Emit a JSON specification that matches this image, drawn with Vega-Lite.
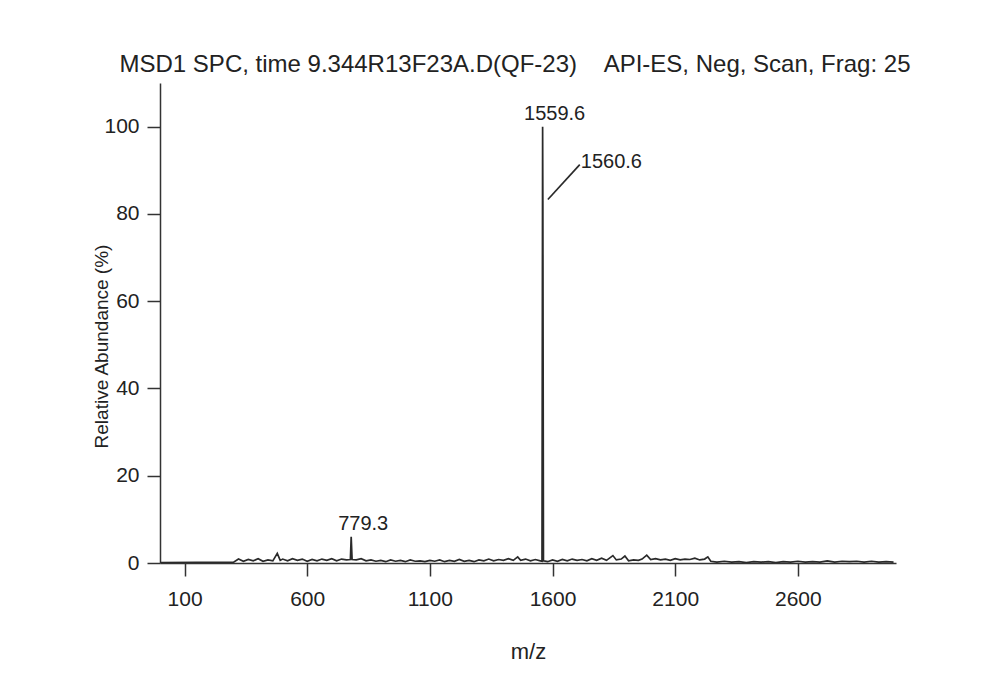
{
  "$schema": "https://vega.github.io/schema/vega-lite/v6.json",
  "autosize": {"type": "none"},
  "padding": {"left": 160, "top": 83, "right": 104, "bottom": 130},
  "width": 736,
  "height": 480,
  "background": "white",
  "config": {
    "view": {"stroke": null},
    "font": "Liberation Sans",
    "axis": {
      "grid": false,
      "domainColor": "#333",
      "domainWidth": 1.5,
      "tickColor": "#333",
      "tickWidth": 1.5,
      "tickSize": 13,
      "labelFont": "Liberation Sans",
      "labelFontSize": 21,
      "labelColor": "#222",
      "titleFont": "Liberation Sans",
      "titleFontSize": 20,
      "titleFontWeight": "normal",
      "titleColor": "#222"
    }
  },
  "title": {
    "text": "MSD1 SPC, time 9.344R13F23A.D(QF-23)\u00a0\u00a0\u00a0\u00a0API-ES, Neg, Scan, Frag: 25",
    "font": "Liberation Sans",
    "fontSize": 24,
    "fontWeight": "normal",
    "color": "#222",
    "anchor": "middle",
    "dx": -13,
    "offset": 6
  },
  "datasets": {
    "spectrum": [
      {"mz": 0, "ab": 0.1}, {"mz": 300, "ab": 0.2}, {"mz": 320, "ab": 0.9}, {"mz": 340, "ab": 0.4},
      {"mz": 360, "ab": 0.8}, {"mz": 380, "ab": 0.5}, {"mz": 400, "ab": 1.0}, {"mz": 420, "ab": 0.4},
      {"mz": 440, "ab": 0.7}, {"mz": 460, "ab": 0.5}, {"mz": 478, "ab": 2.2}, {"mz": 490, "ab": 0.6},
      {"mz": 500, "ab": 0.9}, {"mz": 520, "ab": 0.5}, {"mz": 540, "ab": 1.0}, {"mz": 560, "ab": 0.6},
      {"mz": 580, "ab": 0.9}, {"mz": 600, "ab": 0.4}, {"mz": 620, "ab": 0.8}, {"mz": 640, "ab": 0.5},
      {"mz": 660, "ab": 0.9}, {"mz": 680, "ab": 0.6}, {"mz": 700, "ab": 1.0}, {"mz": 720, "ab": 0.5},
      {"mz": 740, "ab": 0.9}, {"mz": 760, "ab": 0.7}, {"mz": 776, "ab": 0.8}, {"mz": 779.3, "ab": 6.0},
      {"mz": 783, "ab": 0.8}, {"mz": 800, "ab": 0.7}, {"mz": 820, "ab": 1.0}, {"mz": 840, "ab": 0.5},
      {"mz": 860, "ab": 0.7}, {"mz": 880, "ab": 0.4}, {"mz": 900, "ab": 0.6}, {"mz": 920, "ab": 0.3},
      {"mz": 940, "ab": 0.7}, {"mz": 960, "ab": 0.4}, {"mz": 980, "ab": 0.6}, {"mz": 1000, "ab": 0.3},
      {"mz": 1020, "ab": 0.7}, {"mz": 1040, "ab": 0.4}, {"mz": 1060, "ab": 0.5}, {"mz": 1080, "ab": 0.3},
      {"mz": 1100, "ab": 0.6}, {"mz": 1120, "ab": 0.4}, {"mz": 1140, "ab": 0.7}, {"mz": 1160, "ab": 0.3},
      {"mz": 1180, "ab": 0.6}, {"mz": 1200, "ab": 0.4}, {"mz": 1220, "ab": 0.8}, {"mz": 1240, "ab": 0.4},
      {"mz": 1260, "ab": 0.6}, {"mz": 1280, "ab": 0.3}, {"mz": 1300, "ab": 0.7}, {"mz": 1320, "ab": 0.5},
      {"mz": 1340, "ab": 0.9}, {"mz": 1360, "ab": 0.5}, {"mz": 1380, "ab": 0.8}, {"mz": 1400, "ab": 0.6},
      {"mz": 1420, "ab": 1.0}, {"mz": 1440, "ab": 0.6}, {"mz": 1458, "ab": 1.4}, {"mz": 1470, "ab": 0.6},
      {"mz": 1490, "ab": 0.9}, {"mz": 1510, "ab": 0.5}, {"mz": 1530, "ab": 0.8}, {"mz": 1550, "ab": 0.5},
      {"mz": 1557, "ab": 0.4}, {"mz": 1559.6, "ab": 100}, {"mz": 1560.6, "ab": 83}, {"mz": 1563, "ab": 0.5},
      {"mz": 1580, "ab": 0.3}, {"mz": 1600, "ab": 0.7}, {"mz": 1620, "ab": 0.4}, {"mz": 1640, "ab": 0.8},
      {"mz": 1660, "ab": 0.5}, {"mz": 1680, "ab": 0.9}, {"mz": 1700, "ab": 0.6}, {"mz": 1720, "ab": 0.8},
      {"mz": 1740, "ab": 0.5}, {"mz": 1760, "ab": 1.0}, {"mz": 1780, "ab": 0.6}, {"mz": 1800, "ab": 1.1},
      {"mz": 1820, "ab": 0.6}, {"mz": 1846, "ab": 1.7}, {"mz": 1860, "ab": 0.7}, {"mz": 1880, "ab": 0.9},
      {"mz": 1895, "ab": 1.6}, {"mz": 1910, "ab": 0.5}, {"mz": 1930, "ab": 0.7}, {"mz": 1950, "ab": 0.6},
      {"mz": 1965, "ab": 0.9}, {"mz": 1984, "ab": 1.8}, {"mz": 2000, "ab": 0.8}, {"mz": 2020, "ab": 1.0},
      {"mz": 2040, "ab": 0.7}, {"mz": 2060, "ab": 0.9}, {"mz": 2080, "ab": 0.6}, {"mz": 2100, "ab": 1.0},
      {"mz": 2120, "ab": 0.7}, {"mz": 2140, "ab": 0.9}, {"mz": 2160, "ab": 0.8}, {"mz": 2180, "ab": 1.1},
      {"mz": 2200, "ab": 0.7}, {"mz": 2220, "ab": 0.9}, {"mz": 2233, "ab": 1.4}, {"mz": 2245, "ab": 0.4},
      {"mz": 2270, "ab": 0.2}, {"mz": 2300, "ab": 0.4}, {"mz": 2330, "ab": 0.2}, {"mz": 2360, "ab": 0.3},
      {"mz": 2390, "ab": 0.1}, {"mz": 2420, "ab": 0.3}, {"mz": 2450, "ab": 0.2}, {"mz": 2480, "ab": 0.3},
      {"mz": 2510, "ab": 0.1}, {"mz": 2540, "ab": 0.3}, {"mz": 2570, "ab": 0.2}, {"mz": 2600, "ab": 0.4},
      {"mz": 2630, "ab": 0.2}, {"mz": 2660, "ab": 0.3}, {"mz": 2690, "ab": 0.2}, {"mz": 2720, "ab": 0.5},
      {"mz": 2750, "ab": 0.2}, {"mz": 2780, "ab": 0.4}, {"mz": 2810, "ab": 0.3}, {"mz": 2840, "ab": 0.4},
      {"mz": 2870, "ab": 0.2}, {"mz": 2900, "ab": 0.4}, {"mz": 2930, "ab": 0.2}, {"mz": 2960, "ab": 0.3},
      {"mz": 2990, "ab": 0.2}
    ],
    "labels": [
      {"mz": 1559.6, "ab": 100, "label": "1559.6"},
      {"mz": 779.3, "ab": 6.0, "label": "779.3"}
    ],
    "leader": [
      {"mz": 1581, "ab": 83.3, "mz2": 1711, "ab2": 91.3, "label": "1560.6"}
    ]
  },
  "layer": [
    {
      "data": {"name": "spectrum"},
      "mark": {"type": "line", "color": "#2a2a2a", "strokeWidth": 1.7, "clip": true},
      "encoding": {
        "x": {
          "field": "mz", "type": "quantitative",
          "scale": {"domain": [0, 3000], "nice": false, "zero": false},
          "axis": {"values": [100, 600, 1100, 1600, 2100, 2600], "format": "d", "title": "m/z", "labelPadding": 12, "titlePadding": 32, "titleFontSize": 22}
        },
        "y": {
          "field": "ab", "type": "quantitative",
          "scale": {"domain": [0, 110], "nice": false},
          "axis": {"values": [0, 20, 40, 60, 80, 100], "title": "Relative Abundance (%)", "labelPadding": 8, "titlePadding": -8, "titleY": 263, "titleFontSize": 19}
        }
      }
    },
    {
      "data": {"name": "labels"},
      "mark": {"type": "text", "fontSize": 20, "color": "#222", "align": "center", "baseline": "bottom", "dx": 12, "dy": -3, "font": "Liberation Sans"},
      "encoding": {
        "x": {"field": "mz", "type": "quantitative"},
        "y": {"field": "ab", "type": "quantitative"},
        "text": {"field": "label"}
      }
    },
    {
      "data": {"name": "leader"},
      "mark": {"type": "rule", "color": "#2a2a2a", "strokeWidth": 1.7},
      "encoding": {
        "x": {"field": "mz", "type": "quantitative"},
        "x2": {"field": "mz2"},
        "y": {"field": "ab", "type": "quantitative"},
        "y2": {"field": "ab2"}
      }
    },
    {
      "data": {"name": "leader"},
      "mark": {"type": "text", "fontSize": 20, "color": "#222", "align": "left", "baseline": "middle", "dx": 1, "dy": -3, "font": "Liberation Sans"},
      "encoding": {
        "x": {"field": "mz2", "type": "quantitative"},
        "y": {"field": "ab2", "type": "quantitative"},
        "text": {"field": "label"}
      }
    }
  ]
}
